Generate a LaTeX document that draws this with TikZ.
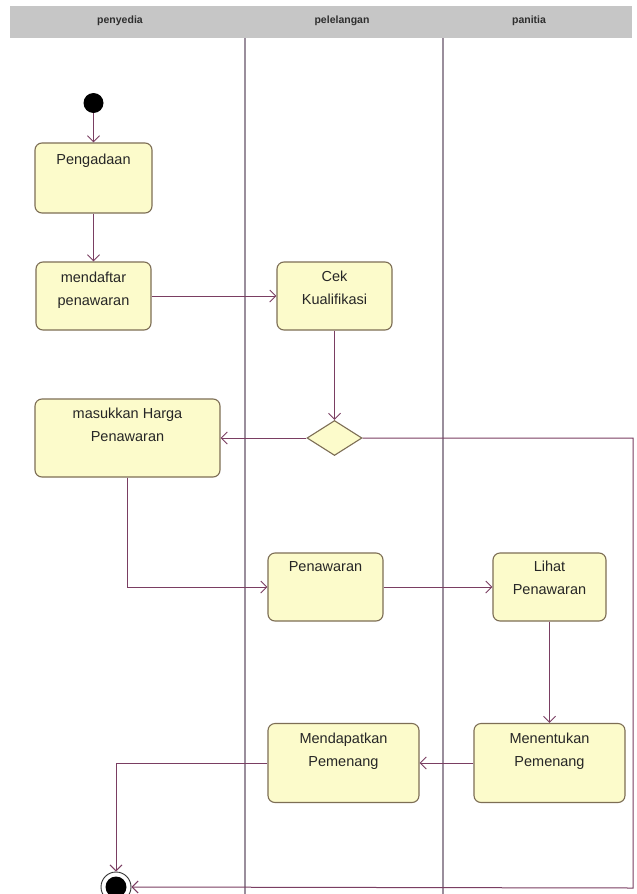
\documentclass[tikz,border=0pt]{standalone}
\usepackage{fontspec}
\setmainfont{Liberation Sans}
\usetikzlibrary{arrows.meta,shapes.geometric}
\definecolor{fillc}{HTML}{FCFBCB}
\definecolor{boxc}{HTML}{7D6E55}
\definecolor{arrc}{HTML}{7A3E62}
\definecolor{lanec}{HTML}{9A8E9C}
\definecolor{headc}{HTML}{C6C6C6}
\definecolor{headt}{HTML}{2E2E2E}
\tikzset{
  actbox/.style={draw=boxc, fill=fillc, line width=1.1pt, rounded corners=7pt, inner sep=0pt},
  acttxt/.style={font=\fontsize{14.5}{23}\selectfont, text=black!85, align=center, inner sep=0pt, anchor=north},
  headtxt/.style={font=\fontsize{10.5}{12}\selectfont\bfseries, text=headt, inner sep=0pt},
  flow/.style={draw=arrc, line width=1pt, -{Straight Barb[length=6pt,width=12pt,line width=1pt]}},
  lane/.style={draw=lanec, line width=1.4pt},
}
\begin{document}
\begin{tikzpicture}[x=1pt,y=-1pt]
\clip (0,0) rectangle (637,894);
\fill[white] (0,0) rectangle (637,894);
% header band
\fill[headc] (10,6) rectangle (632,38);
\node[headtxt] (h1) at (120,21) {penyedia};
\node[headtxt] (h2) at (342,21) {pelelangan};
\node[headtxt] (h3) at (529,21) {panitia};
% lanes
\coordinate (l1t) at (245,38); \coordinate (l1b) at (245,894);
\coordinate (l2t) at (443,38); \coordinate (l2b) at (443,894);
\draw[lane] (l1t) -- (l1b);
\draw[lane] (l2t) -- (l2b);
% start
\node[circle, fill=black, minimum size=20pt, inner sep=0pt] (start) at (93.5,103) {};
% boxes
\node[actbox, minimum width=117pt, minimum height=70pt] (pg) at (93.5,178) {};
\node[acttxt] (pgt) at (93.5,154) {Pengadaan};
\node[actbox, minimum width=115pt, minimum height=68pt] (md) at (93.5,296) {};
\node[acttxt] (mdt) at (93.5,272) {mendaftar\\penawaran};
\node[actbox, minimum width=115pt, minimum height=68pt] (ck) at (334.5,296) {};
\node[acttxt] (ckt) at (334.5,271) {Cek\\Kualifikasi};
\node[diamond, draw=boxc, fill=fillc, line width=1.1pt, minimum width=55pt, minimum height=35pt, inner sep=0pt] (dm) at (334.5,438) {};
\node[actbox, minimum width=185pt, minimum height=78pt] (mh) at (127.5,438) {};
\node[acttxt] (mht) at (127.5,408) {masukkan Harga\\Penawaran};
\node[actbox, minimum width=115pt, minimum height=68pt] (pn) at (325.5,587) {};
\node[acttxt] (pnt) at (325.5,561) {Penawaran};
\node[actbox, minimum width=113pt, minimum height=68pt] (lp) at (549.5,587) {};
\node[acttxt] (lpt) at (549.5,561) {Lihat\\Penawaran};
\node[actbox, minimum width=151pt, minimum height=79pt] (mt) at (549.5,763) {};
\node[acttxt] (mtt) at (549.5,733) {Menentukan\\Pemenang};
\node[actbox, minimum width=151pt, minimum height=79pt] (mp) at (343.5,763) {};
\node[acttxt] (mpt) at (343.5,733) {Mendapatkan\\Pemenang};
% final node
\node[circle, draw=black!80, line width=0.9pt, minimum size=30pt, inner sep=0pt] (fin) at (116,887) {};
\node[circle, fill=black, minimum size=21pt, inner sep=0pt] (finin) at (fin.center) {};
\coordinate (rc) at (633,888);
% flows
\draw[flow] (start) -- (pg);
\draw[flow] (pg) -- (md);
\draw[flow] (md) -- (ck);
\draw[flow] (ck) -- (dm);
\draw[flow] (dm) -- (mh);
\draw[flow] (mh.south) |- (pn.west);
\draw[flow] (pn) -- (lp);
\draw[flow] (lp) -- (mt);
\draw[flow] (mt) -- (mp);
\draw[flow] (mp.west) -| (fin.north);
\draw[flow] (dm.east) -| (rc) -- (fin.east);
\end{tikzpicture}
\end{document}
